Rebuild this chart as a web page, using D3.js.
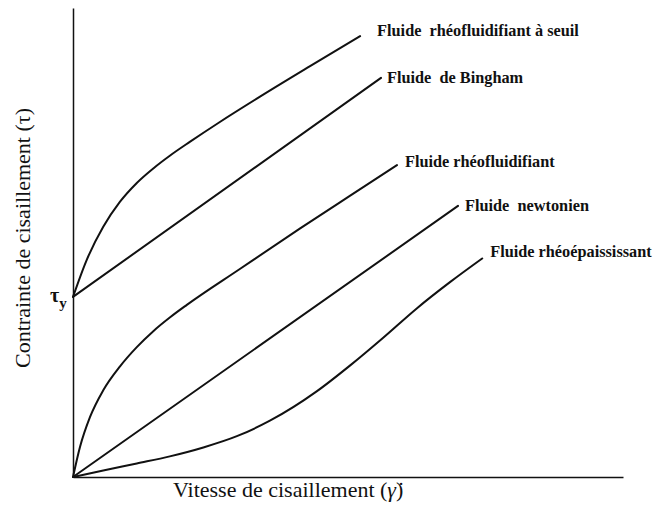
<!DOCTYPE html>
<html>
<head>
<meta charset="utf-8">
<script src="https://cdn.jsdelivr.net/npm/d3@7"></script>
<style>
  html, body { margin: 0; padding: 0; background: #fff; }
  svg { display: block; }
</style>
</head>
<body>
<svg id="chart" width="654" height="511"></svg>
<script>
// Shear rate (x) and shear stress (y) in arbitrary units, axis span 0..100
const tauY = 38.4;

const seuilX = [0, 2.5, 5.5, 8.55, 11.6, 14.6, 17.6, 21.3, 26.7, 34.0, 43.1, 52.2];
const seuilY = [38.4, 46.3, 53.35, 58.7, 62.7, 65.8, 68.5, 71.5, 75.7, 81.1, 87.6, 94.0];

const binghamX = [0, 56.0];
const binghamY = [38.4, 85.1];

const rheoflX = [0, 1.27, 3.1, 5.5, 8.55, 11.6, 14.6, 17.6, 20.7, 30.4, 41.3, 50.4, 58.9];
const rheoflY = [0, 6.4, 12.8, 18.5, 23.6, 27.7, 31.1, 34.0, 36.7, 44.4, 53.0, 60.0, 66.5];

const newtonX = [0, 70.0];
const newtonY = [0, 57.8];

const epaisX = [0, 5.5, 11.6, 17.6, 23.7, 29.8, 35.8, 44.3, 50.4, 56.4, 62.5, 68.6, 74.4];
const epaisY = [0, 1.4, 2.9, 4.4, 6.3, 8.7, 12.0, 18.25, 23.8, 29.7, 35.95, 41.6, 46.6];

const seriesNames = [
  "Fluide  rhéofluidifiant à seuil",
  "Fluide  de Bingham",
  "Fluide rhéofluidifiant",
  "Fluide  newtonien",
  "Fluide rhéoépaississant"
];

const xTitleText = "Vitesse de cisaillement";
const xTitleSymbol = "γ̇";
const yTitle = "Contrainte de cisaillement (τ)";

const series = [
  { name: seriesNames[0], xs: seuilX, ys: seuilY, dx: 17, dy: 0 },
  { name: seriesNames[1], xs: binghamX, ys: binghamY, dx: 6, dy: 5 },
  { name: seriesNames[2], xs: rheoflX, ys: rheoflY, dx: 8, dy: 2 },
  { name: seriesNames[3], xs: newtonX, ys: newtonY, dx: 7, dy: 5 },
  { name: seriesNames[4], xs: epaisX, ys: epaisY, dx: 8, dy: -1 }
];

const serif = "'Liberation Serif', 'Times New Roman', serif";

const svg = d3.select("#chart");
const x = d3.scaleLinear().domain([0, 100]).range([73, 623]);
const y = d3.scaleLinear().domain([0, 100]).range([477, 8]);

// Axes: plain lines without ticks
const axisColor = "#111";
svg.append("g")
  .attr("transform", `translate(0,${y(0)})`)
  .call(d3.axisBottom(x).ticks(0).tickSize(0).tickFormat(""))
  .call(g => g.select(".domain").attr("stroke", axisColor).attr("stroke-width", 1.5));
svg.append("g")
  .attr("transform", `translate(${x(0)},0)`)
  .call(d3.axisLeft(y).ticks(0).tickSize(0).tickFormat(""))
  .call(g => g.select(".domain").attr("stroke", axisColor).attr("stroke-width", 1.5));

const line = d3.line()
  .x(d => x(d[0]))
  .y(d => y(d[1]))
  .curve(d3.curveMonotoneX);

series.forEach(s => {
  const pts = s.xs.map((v, i) => [v, s.ys[i]]);
  svg.append("path")
    .datum(pts)
    .attr("d", line)
    .attr("fill", "none")
    .attr("stroke", "#111")
    .attr("stroke-width", 2)
    .attr("stroke-linecap", "round");

  const last = pts[pts.length - 1];
  svg.append("text")
    .attr("x", x(last[0]) + s.dx)
    .attr("y", y(last[1]) + s.dy)
    .attr("font-family", serif)
    .attr("font-weight", "bold")
    .attr("font-size", 16.3)
    .attr("fill", "#111")
    .style("white-space", "pre")
    .text(s.name);
});

// Yield stress marker on the vertical axis
const tauLabel = svg.append("text")
  .attr("x", x(0) - 23)
  .attr("y", y(tauY) + 5)
  .attr("font-family", serif)
  .attr("font-weight", "bold")
  .attr("font-size", 20)
  .attr("fill", "#111");
tauLabel.append("tspan").text("τ");
tauLabel.append("tspan").attr("font-size", 15).attr("dy", 6).text("y");

// Axis titles
const xt = svg.append("text")
  .attr("x", 173)
  .attr("y", 497)
  .attr("font-family", serif)
  .attr("font-size", 22)
  .attr("fill", "#111");
xt.append("tspan").text(xTitleText + " (");
xt.append("tspan").attr("font-style", "italic").text(xTitleSymbol);
xt.append("tspan").text(")");

svg.append("text")
  .attr("transform", `translate(30,238) rotate(-90)`)
  .attr("text-anchor", "middle")
  .attr("font-family", serif)
  .attr("font-size", 22)
  .attr("fill", "#111")
  .text(yTitle);
</script>
</body>
</html>
